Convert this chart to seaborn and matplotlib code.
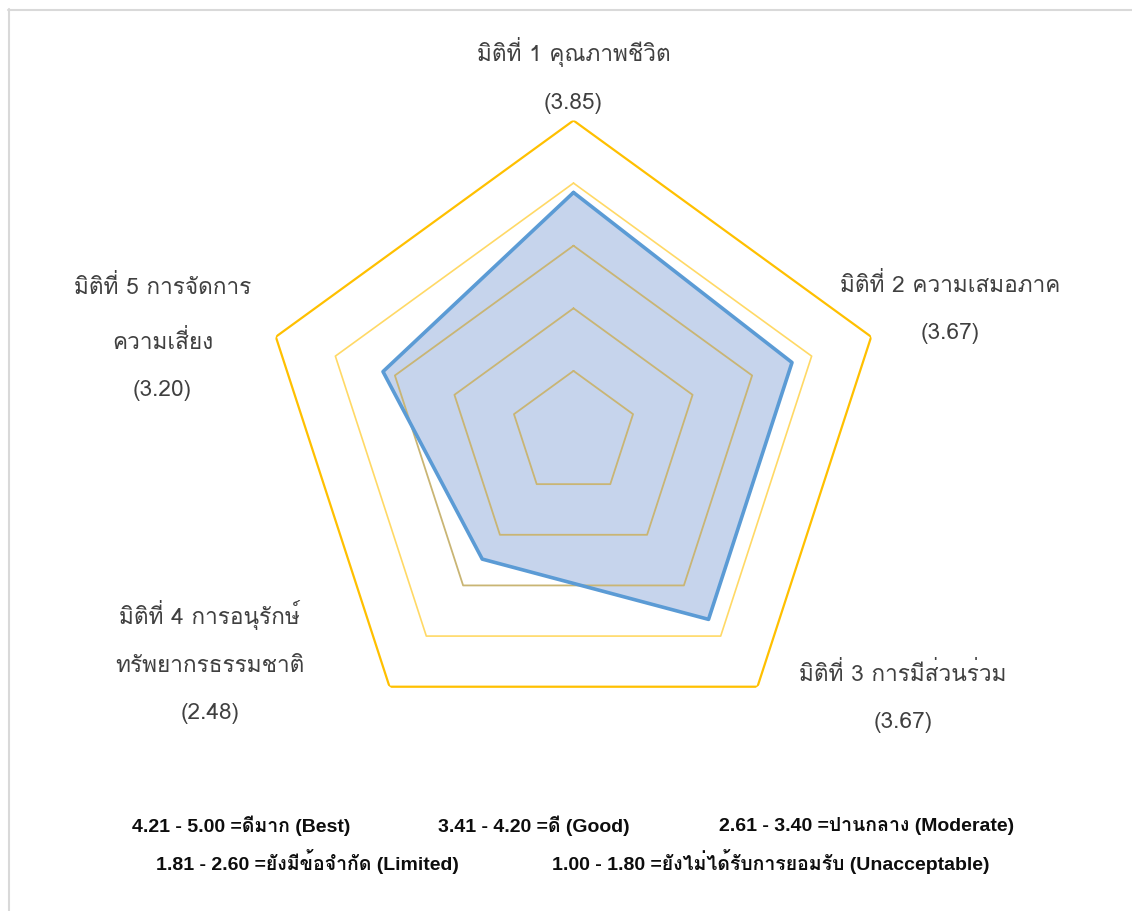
import numpy as np
import matplotlib
matplotlib.use("Agg")
import matplotlib.pyplot as plt
from matplotlib import font_manager
from matplotlib.lines import Line2D
import seaborn as sns
import pandas as pd

# ---- data -------------------------------------------------------------
dimensions = [
    "มิติที่ 1 คุณภาพชีวิต",
    "มิติที่ 2 ความเสมอภาค",
    "มิติที่ 3 การมีส่วนร่วม",
    "มิติที่ 4 การอนุรักษ์\nทรัพยากรธรรมชาติ",
    "มิติที่ 5 การจัดการ\nความเสี่ยง",
]
scores = [3.85, 3.67, 3.67, 2.48, 3.20]
ring_levels = [1, 2, 3, 4, 5]
legend_row1 = [
    "4.21 - 5.00 =ดีมาก (Best)",
    "3.41 - 4.20 =ดี (Good)",
    "2.61 - 3.40 =ปานกลาง (Moderate)",
]
legend_row2 = [
    "1.81 - 2.60 =ยังมีข้อจำกัด (Limited)",
    "1.00 - 1.80 =ยังไม่ได้รับการยอมรับ (Unacceptable)",
]

# ---- fonts ------------------------------------------------------------
def find_thai_family():
    from fontTools.ttLib import TTFont
    for fe in font_manager.fontManager.ttflist:
        try:
            f = TTFont(fe.fname, fontNumber=0, lazy=True)
            cmap = f.getBestCmap()
            if cmap and 0x0E01 in cmap and 0x0E34 in cmap:
                return fe.name
        except Exception:
            continue
    return None

sns.set_theme(style="white")
thai = find_thai_family()
label_fonts = ([thai] if thai else []) + ["DejaVu Sans"]
legend_fonts = ["Liberation Sans"] + ([thai] if thai else []) + ["DejaVu Sans"]
plt.rcParams["font.family"] = label_fonts

# ---- figure -----------------------------------------------------------
W, H = 1132, 911
fig = plt.figure(figsize=(W / 100, H / 100), dpi=100)
fig.patch.set_facecolor("white")

cx, cy, R = 573.5, 433.5, 313.0
ax = fig.add_axes([(cx - R) / W, (H - cy - R) / H, 2 * R / W, 2 * R / H],
                  projection="polar")
ax.set_theta_offset(np.pi / 2)
ax.set_theta_direction(-1)
ax.set_ylim(0, 5)
ax.grid(False)
ax.set_xticks([])
ax.set_yticks([])
ax.spines["polar"].set_visible(False)
ax.set_facecolor("none")

n = len(dimensions)
angles = np.linspace(0, 2 * np.pi, n, endpoint=False)
closed = np.append(angles, angles[0])

# data polygon fill
vals = np.append(scores, scores[0])
ax.fill(closed, vals, color="#C6D4EC", zorder=1, linewidth=0)

# concentric pentagon rings
ring_colors = {1: "#C9B574", 2: "#C9B574", 3: "#C9B574", 4: "#FFD966", 5: "#FFC000"}
ring_widths = {1: 1.3, 2: 1.3, 3: 1.3, 4: 1.2, 5: 1.6}
for lvl in ring_levels:
    df = pd.DataFrame({"theta": closed, "r": [lvl] * len(closed)})
    sns.lineplot(data=df, x="theta", y="r", ax=ax, sort=False, estimator=None,
                 color=ring_colors[lvl], linewidth=ring_widths[lvl], zorder=2)

# data outline
df_scores = pd.DataFrame({"theta": closed, "r": vals})
sns.lineplot(data=df_scores, x="theta", y="r", ax=ax, sort=False, estimator=None,
             color="#5B9BD5", linewidth=2.6, zorder=3)
ax.set_xlabel("")
ax.set_ylabel("")
ax.set_ylim(0, 5)

# axis category labels with the score underneath
label_theta_deg = [0, 71.7, 128.7, 237.9, 283.1]
label_radius = [5.72, 6.34, 6.74, 6.86, 6.74]
for name, sc, th, rr in zip(dimensions, scores, label_theta_deg, label_radius):
    ax.text(np.deg2rad(th), rr, f"{name}\n({sc:.2f})", ha="center", va="center",
            fontsize=16.3, color="#404040", linespacing=2.63, clip_on=False)

# legend text rows
row1_x = [241, 534, 867]
row2_x = [307, 771]
for txt, x in zip(legend_row1, row1_x):
    fig.text(x / W, 1 - 826 / H, txt, ha="center", va="center", fontsize=14,
             fontweight="bold", color="#0D0D0D", family=legend_fonts)
for txt, x in zip(legend_row2, row2_x):
    fig.text(x / W, 1 - 862 / H, txt, ha="center", va="center", fontsize=14,
             fontweight="bold", color="#0D0D0D", family=legend_fonts)

# chart frame (left and top edges inside the canvas)
frame_kw = dict(color="#D9D9D9", linewidth=1.5, transform=fig.transFigure)
fig.add_artist(Line2D([8.5 / W, 8.5 / W], [0, 1 - 9 / H], **frame_kw))
fig.add_artist(Line2D([8 / W, 1], [1 - 9.5 / H, 1 - 9.5 / H], **frame_kw))

fig.savefig("out.png", dpi=100, facecolor="white")
